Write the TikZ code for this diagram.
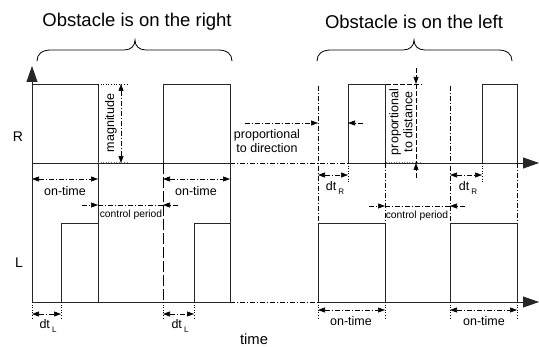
\documentclass[tikz,border=0pt]{standalone}
\usepackage{fontspec}
\setmainfont{Liberation Sans}
\usetikzlibrary{arrows.meta}
\tikzset{
  sig/.style={line width=0.8pt,black!85},
  dimline/.style={line width=0.6pt,dash pattern=on 5pt off 2pt on 1pt off 2pt},
  longdash/.style={line width=0.6pt,dash pattern=on 11pt off 3pt},
  shortdash/.style={line width=0.6pt,dash pattern=on 5pt off 2pt},
  tickline/.style={line width=0.6pt,dotted},
  tip/.style={-{Triangle[length=7pt,width=5pt]}},
  twotips/.style={{Triangle[length=7pt,width=5pt]}-{Triangle[length=7pt,width=5pt]}},
  bigtip/.style={-{Triangle[length=16pt,width=11pt]}},
  titletext/.style={font=\fontsize{18.5}{22}\selectfont,inner sep=0pt},
  lbl/.style={font=\fontsize{12.5}{14}\selectfont,inner sep=0pt},
  smalllbl/.style={font=\fontsize{10.3}{12}\selectfont,inner sep=0pt},
}
\newcommand{\dtlabel}[1]{dt\,\raisebox{-4pt}{\fontsize{8}{9}\selectfont #1}}
\begin{document}
\begin{tikzpicture}[x=1pt,y=-1pt]
  \useasboundingbox (0,0) rectangle (539,347);
  % titles and braces
  \node[titletext] (titleright) at (137,22) {Obstacle is on the right};
  \node[titletext] (titleleft) at (414,22) {Obstacle is on the left};
  \foreach \a/\m/\b in {37/135/232, 317/414/512}
    \draw[line width=0.8pt] (\a,61) .. controls (\a,54) and (\a+5,50) .. (\a+14,50) -- (\m-11,50)
      .. controls (\m-4,50) and (\m,46) .. (\m,40) .. controls (\m,46) and (\m+4,50) .. (\m+11,50)
      -- (\b-14,50) .. controls (\b-5,50) and (\b,54) .. (\b,61);
  % axes
  \draw[sig,bigtip] (32,302) -- (32,66);
  \draw[sig] (32,163) -- (230,163);
  \draw[dimline] (230,163) -- (348,163);
  \draw[sig,bigtip] (348,163) -- (539,163);
  \draw[sig] (32,302) -- (230,302);
  \draw[dimline] (230,302) -- (318,302);
  \draw[sig,bigtip] (318,302) -- (539,302);
  \node[lbl,font=\fontsize{14}{16}\selectfont] (rlabel) at (18,137) {R};
  \node[lbl,font=\fontsize{14}{16}\selectfont] (llabel) at (19,263) {L};
  \node[lbl,font=\fontsize{14.8}{16}\selectfont] (timelabel) at (254,339) {time};
  % pulses
  \foreach \a/\b in {32/98, 163/230, 348/385, 482/517}
    \draw[sig] (\a,163) -- (\a,84) -- (\b,84) -- (\b,163);
  \foreach \a/\b in {61/98, 194/230, 318/385, 450/517}
    \draw[sig] (\a,302) -- (\a,223) -- (\b,223) -- (\b,302);
  \draw[sig] (98,163) -- (98,223);
  \draw[sig] (230,163) -- (230,223);
  \draw[longdash] (163,163) -- (163,302);
  \foreach \x in {318, 450}
    \draw[dimline] (\x,86) -- (\x,223);
  \foreach \x in {385, 517}
    \draw[dimline] (\x,163) -- (\x,223);
  \foreach \x in {348, 482}
    \draw[tickline] (\x,163) -- (\x,182);
  \foreach \x in {32, 61, 163, 194, 318, 385, 450, 517}
    \draw[tickline] (\x,302) -- (\x,318);
  % magnitude
  \draw[dimline,twotips] (121,84) -- (121,163);
  \draw[tickline] (98,84) -- (128,84);
  \draw[tickline,gray] (98,162) -- (128,162);
  \node[lbl,rotate=90] (magnitude) at (111,123) {magnitude};
  % proportional to direction
  \draw[dimline,tip] (245,123) -- (318,123);
  \draw[dimline,tip] (363,123) -- (348,123);
  \node[lbl,align=center] (direction) at (267,141) {proportional\\to direction};
  % proportional to distance
  \draw[shortdash,tip] (416,68) -- (416,84);
  \draw[shortdash] (416,84) -- (416,163);
  \draw[shortdash,tip] (416,178) -- (416,163);
  \draw[shortdash] (386,84) -- (422,84);
  \draw[tickline,gray,line width=0.9pt] (386,162) -- (422,162);
  \node[lbl,rotate=90,align=center] (distance) at (401,122) {proportional\\to distance};
  % on-time
  \foreach \a/\b/\y in {32/98/179, 163/230/179, 318/385/310, 450/517/310}
    \draw[dimline,twotips] (\a,\y) -- (\b,\y);
  \node[lbl] (ontimea) at (65,191) {on-time};
  \node[lbl] (ontimeb) at (196,191) {on-time};
  \node[lbl] (ontimec) at (351,321) {on-time};
  \node[lbl] (ontimed) at (484,321) {on-time};
  % control period
  \foreach \a/\b/\c/\d/\y in {82/98/163/178/205, 369/385/450/465/206} {
    \draw[dimline,tip] (\a,\y) -- (\b,\y);
    \draw[dimline] (\b,\y) -- (\c,\y);
    \draw[dimline,tip] (\d,\y) -- (\c,\y);
  }
  \node[smalllbl] (perioda) at (131,215) {control period};
  \node[smalllbl] (periodb) at (417,216) {control period};
  % dt markers
  \foreach \a/\b/\y in {318/348/175, 450/482/175, 32/61/314, 163/194/314}
    \draw[dimline,twotips] (\a,\y) -- (\b,\y);
  \node[lbl] (dtra) at (335,188) {\dtlabel{R}};
  \node[lbl] (dtrb) at (468,188) {\dtlabel{R}};
  \node[lbl] (dtla) at (48,326) {\dtlabel{L}};
  \node[lbl] (dtlb) at (180,326) {\dtlabel{L}};
\end{tikzpicture}
\end{document}
